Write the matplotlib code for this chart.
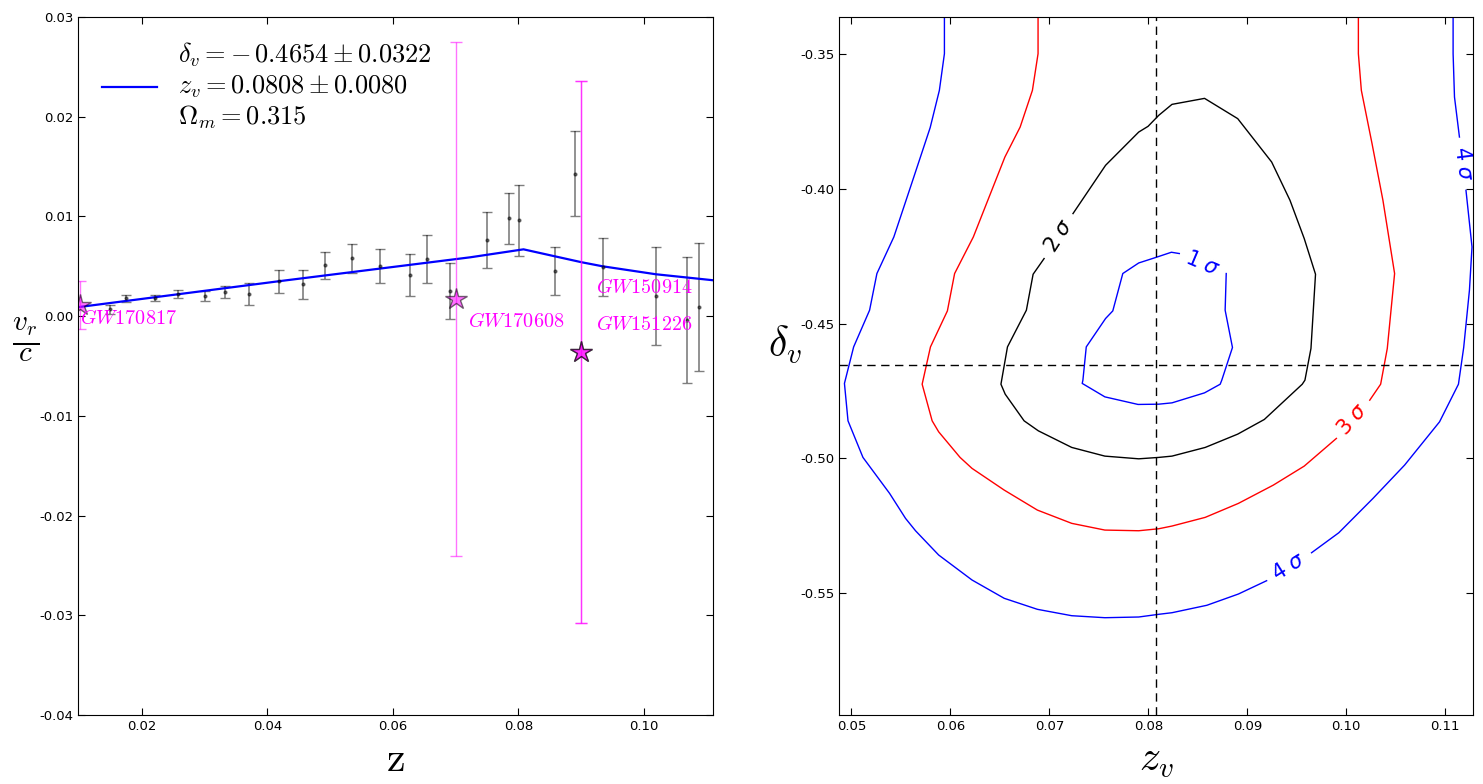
import numpy as np
import matplotlib
matplotlib.use('Agg')
import matplotlib.pyplot as plt
from matplotlib.ticker import MultipleLocator

plt.rcParams['mathtext.fontset'] = 'cm'
plt.rcParams['axes.unicode_minus'] = False
plt.rcParams['xtick.direction'] = 'in'
plt.rcParams['ytick.direction'] = 'in'
plt.rcParams['xtick.top'] = True
plt.rcParams['ytick.right'] = True
plt.rcParams['xtick.major.size'] = 5
plt.rcParams['ytick.major.size'] = 5
plt.rcParams['xtick.labelsize'] = 9.5
plt.rcParams['ytick.labelsize'] = 9.5

# --- left panel: binned peculiar velocities ---
z_bins = [0.0149, 0.0174, 0.0221, 0.0257, 0.0300, 0.0332, 0.0371, 0.0418,
          0.0457, 0.0492, 0.0535, 0.0579, 0.0627, 0.0654, 0.0691, 0.0750,
          0.0785, 0.0801, 0.0858, 0.0890, 0.0934, 0.1019, 0.1068, 0.1088]
v_bins = [0.0007, 0.0018, 0.0018, 0.0022, 0.0020, 0.0024, 0.0022, 0.0035,
          0.0032, 0.0051, 0.0058, 0.0050, 0.0041, 0.0057, 0.0025, 0.0076,
          0.0098, 0.0096, 0.0045, 0.0143, 0.0049, 0.0020, -0.0004, 0.0009]
v_errs = [0.00045, 0.00034, 0.00032, 0.0004, 0.0005, 0.00058, 0.0011, 0.00114,
          0.00144, 0.00135, 0.00144, 0.0017, 0.0021, 0.0024, 0.0028, 0.0028,
          0.00256, 0.0036, 0.0024, 0.0043, 0.0029, 0.0049, 0.0063, 0.0064]

# best fit void model
model_z = [0.0098, 0.0418, 0.0723, 0.0808, 0.0858, 0.0901, 0.0934, 0.1019, 0.111]
model_v = [0.0009, 0.0035, 0.0059, 0.0067, 0.0060, 0.0054, 0.0050, 0.0042, 0.0036]

# gravitational wave events
gw_names = ['GW170817', 'GW170608', 'GW150914', 'GW151226']
gw_z = [0.0101, 0.0700, 0.0900, 0.0900]
gw_v = [0.0011, 0.0017, -0.0036, -0.0036]
gw_err = [0.0024, 0.0258, 0.0272, 0.0272]

delta_v, delta_err = -0.4654, 0.0322
z_v, z_err = 0.0808, 0.0080
omega_m = 0.315

# --- right panel: confidence contours (delta_v vs z_v) ---
s1_z = [0.08787, 0.08776, 0.08850, 0.08742, 0.08726, 0.08568, 0.08239, 0.08105,
        0.07896, 0.07561, 0.07332, 0.07339, 0.07373, 0.07568, 0.07641, 0.07742,
        0.07903, 0.08072, 0.08233, 0.08313]
s1_d = [-0.43148, -0.44507, -0.45889, -0.4710, -0.4725, -0.4757, -0.47941, -0.4799,
        -0.4800, -0.47719, -0.4722, -0.4710, -0.45867, -0.44815, -0.44533, -0.43148,
        -0.42756, -0.42556, -0.42359, -0.42407]

s2_z = [0.07239, 0.07568, 0.07903, 0.07997, 0.08105, 0.08239, 0.08568, 0.08903,
        0.09246, 0.09431, 0.09575, 0.09689, 0.09643, 0.09582, 0.09555, 0.09172,
        0.08903, 0.08575, 0.08239, 0.08105, 0.07903, 0.07561, 0.07226, 0.06889,
        0.06745, 0.06554, 0.06511, 0.06577, 0.06768, 0.06836, 0.06947]
s2_d = [-0.40926, -0.39137, -0.37904, -0.37693, -0.37285, -0.36878, -0.36656, -0.37407,
        -0.39015, -0.40433, -0.41852, -0.43174, -0.45926, -0.4710, -0.4725, -0.48556,
        -0.491, -0.49593, -0.49915, -0.49963, -0.50015, -0.49915, -0.49593, -0.48978,
        -0.48607, -0.47619, -0.4725, -0.45867, -0.44507, -0.43174, -0.42593]

s3_z = [0.06886, 0.06886, 0.06829, 0.06705, 0.06551, 0.06232, 0.06043, 0.05970,
        0.05799, 0.05715, 0.05816, 0.05882, 0.06098, 0.06219, 0.06544, 0.06879,
        0.07226, 0.07561, 0.07903, 0.08105, 0.08239, 0.08575, 0.08910, 0.09263,
        0.09575, 0.09900, np.nan, 0.10237, 0.10347, 0.10414, 0.10488, 0.10370,
        0.10260, 0.10152, 0.10122, 0.10122]
s3_d = [-0.33644, -0.35, -0.36359, -0.37719, -0.3883, -0.41793, -0.43148, -0.44533,
        -0.45867, -0.4725, -0.48607, -0.49015, -0.49963, -0.5037, -0.51174, -0.51915,
        -0.52407, -0.52656, -0.52681, -0.52607, -0.52507, -0.52185, -0.51667, -0.50989,
        -0.50285, -0.49259, np.nan, -0.47841, -0.4725, -0.45926, -0.43148, -0.40433,
        -0.38333, -0.36359, -0.35, -0.33644]

s4_z = [0.05940, 0.05940, 0.05889, 0.05796, 0.05614, 0.05429, 0.05258, 0.05184,
        0.05023, 0.04930, 0.04966, 0.05117, 0.05386, 0.05547, 0.05648, 0.05882,
        0.06219, 0.06544, 0.06879, 0.07226, 0.07561, 0.07903, 0.08105, 0.08239,
        0.08591, 0.08910, 0.09195, np.nan, 0.09649, 0.09924, 0.10270, 0.10589,
        0.10942, 0.11133, 0.11186, 0.11244, 0.11270, 0.11209, np.nan, 0.11143,
        0.11093, 0.11079, 0.11079]
s4_d = [-0.33644, -0.35, -0.36359, -0.37741, -0.39756, -0.41793, -0.43148, -0.44507,
        -0.45867, -0.4722, -0.48607, -0.49963, -0.51296, -0.52222, -0.52681, -0.53581,
        -0.54507, -0.55185, -0.55593, -0.5583, -0.55904, -0.55878, -0.55778, -0.55719,
        -0.55444, -0.55026, -0.54533, np.nan, -0.53496, -0.52756, -0.51481, -0.50248,
        -0.48644, -0.4725, -0.45889, -0.43767, -0.42163, -0.40063, np.nan, -0.38089,
        -0.36607, -0.35, -0.33644]

fig = plt.figure(figsize=(14.83, 7.84), dpi=100)
fig.patch.set_facecolor('white')
ax1 = fig.add_axes([78/1483, 69/784, 635/1483, 698/784])
ax2 = fig.add_axes([839/1483, 69/784, 634/1483, 698/784])

# left
ax1.errorbar(z_bins, v_bins, yerr=v_errs, fmt='.', color='k', ms=4,
             ecolor='k', elinewidth=1.2, capsize=3.5, alpha=0.5)
label = (r'$\delta_v = -\,%.4f \pm %.4f$' % (abs(delta_v), delta_err) + '\n' +
         r'$z_v = %.4f \pm %.4f$' % (z_v, z_err) + '\n' +
         r'$\Omega_m = %.3f$' % omega_m)
ax1.plot(model_z, model_v, color='b', lw=1.6, label=label)
for i in range(len(gw_names)):
    ax1.errorbar(gw_z[i], gw_v[i], yerr=gw_err[i], fmt='*', color='magenta',
                 mec='k', ms=16, capsize=4, elinewidth=1, alpha=0.55)

ax1.text(0.0101, -0.0008, '$GW170817$', color='magenta', fontsize=14.5)
ax1.text(0.0719, -0.0011, '$GW170608$', color='magenta', fontsize=14.5)
ax1.text(0.0924, 0.0023, '$GW150914$', color='magenta', fontsize=14.5)
ax1.text(0.0924, -0.0014, '$GW151226$', color='magenta', fontsize=14.5)

ax1.set_xlim(0.0098, 0.111)
ax1.set_ylim(-0.04, 0.03)
ax1.xaxis.set_major_locator(MultipleLocator(0.02))
ax1.yaxis.set_major_locator(MultipleLocator(0.01))
ax1.set_xlabel(r'$\mathrm{z}$', fontsize=30)
ax1.set_ylabel(r'$\frac{v_r}{c}$', fontsize=30, rotation=0, ha='center', va='center')
ax1.yaxis.set_label_coords(-0.083, 0.537)
ax1.legend(loc='upper left', frameon=False, fontsize=19, handlelength=2.1,
           borderaxespad=0.5, handletextpad=0.8)

# right
ax2.plot(s4_z, s4_d, color='b', lw=1)
ax2.plot(s3_z, s3_d, color='r', lw=1)
ax2.plot(s2_z, s2_d, color='k', lw=1)
ax2.plot(s1_z, s1_d, color='b', lw=1)
ax2.axvline(z_v, color='k', ls=(0, (6, 4)), lw=1)
ax2.axhline(delta_v, color='k', ls=(0, (6, 4)), lw=1)

lab = dict(fontsize=15, ha='center', va='center', rotation_mode='anchor',
           math_fontfamily='dejavusans')
ax2.text(0.08548, -0.42767, r'1 $\sigma$', color='b', rotation=-23, **lab)
ax2.text(0.07093, -0.41759, r'2 $\sigma$', color='k', rotation=57, **lab)
ax2.text(0.10069, -0.48544, r'3 $\sigma$', color='r', rotation=49, **lab)
ax2.text(0.09422, -0.54015, r'4 $\sigma$', color='b', rotation=32, **lab)
ax2.text(0.11176, -0.39074, r'4 $\sigma$', color='b', rotation=-83, **lab)

ax2.set_xlim(0.04875, 0.1128)
ax2.set_ylim(-0.5951, -0.3364)
ax2.xaxis.set_major_locator(MultipleLocator(0.01))
ax2.yaxis.set_major_locator(MultipleLocator(0.05))
ax2.set_xlabel(r'$z_v$', fontsize=30)
ax2.set_ylabel(r'$\delta_v$', fontsize=30, rotation=0, ha='center', va='center')
ax2.yaxis.set_label_coords(-0.085, 0.53)

fig.savefig('out.png', dpi=100, facecolor='white')
